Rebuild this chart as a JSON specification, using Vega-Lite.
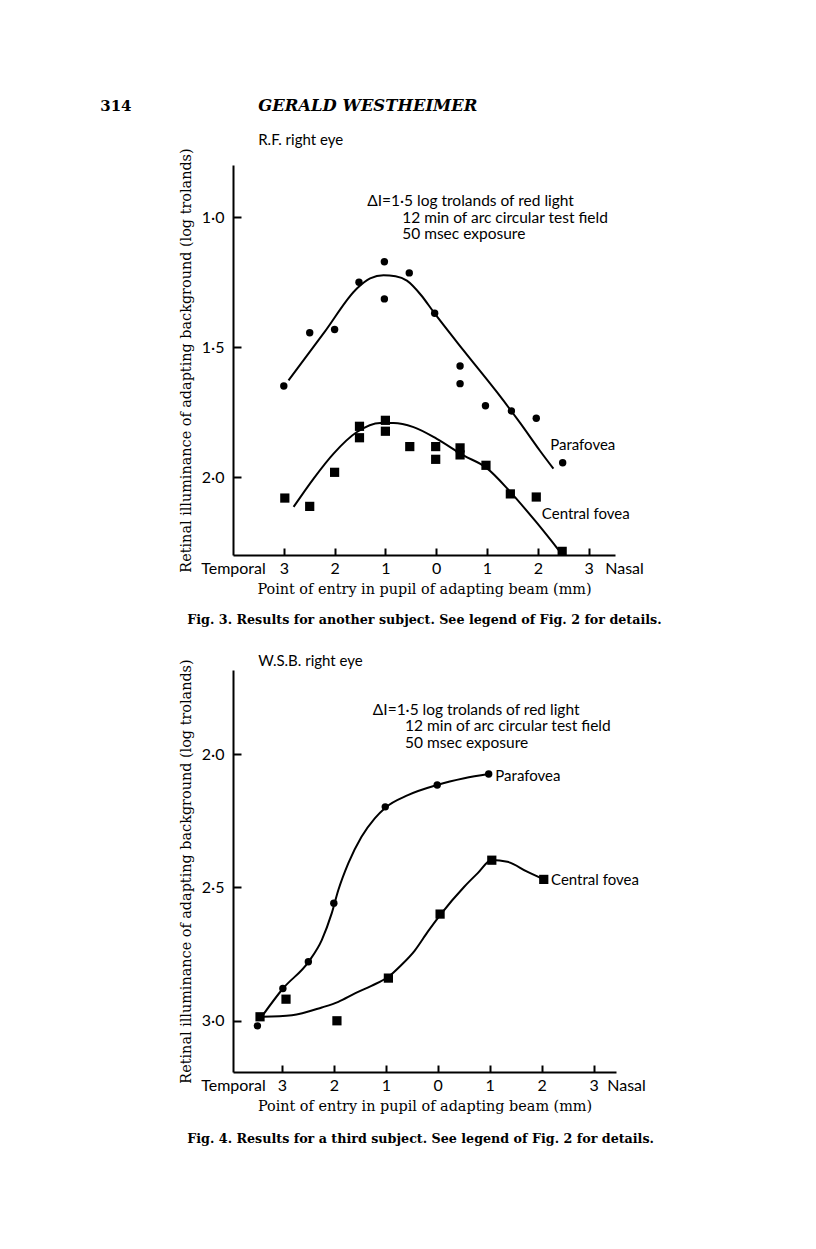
{
  "$schema": "https://vega.github.io/schema/vega-lite/v6.json",
  "background": "white",
  "padding": {"left": 100, "top": 97, "right": 10, "bottom": 10},
  "config": {
    "view": {"stroke": null},
    "axis": {
      "domainColor": "black", "domainWidth": 2, "tickColor": "black", "tickWidth": 2,
      "labelColor": "black", "titleColor": "black", "grid": false,
      "labelFont": "Lato", "labelFontSize": 16,
      "titleFont": "DejaVu Serif", "titleFontSize": 14.4, "titleFontWeight": "normal"
    }
  },
  "datasets": {
    "fig3_points": [
      {"x": -3.0, "y": 1.65, "series": "Parafovea"},
      {"x": -2.49, "y": 1.445, "series": "Parafovea"},
      {"x": -2.0, "y": 1.433, "series": "Parafovea"},
      {"x": -1.52, "y": 1.251, "series": "Parafovea"},
      {"x": -1.02, "y": 1.172, "series": "Parafovea"},
      {"x": -1.02, "y": 1.315, "series": "Parafovea"},
      {"x": -0.53, "y": 1.215, "series": "Parafovea"},
      {"x": -0.03, "y": 1.37, "series": "Parafovea"},
      {"x": 0.47, "y": 1.573, "series": "Parafovea"},
      {"x": 0.47, "y": 1.641, "series": "Parafovea"},
      {"x": 0.97, "y": 1.726, "series": "Parafovea"},
      {"x": 1.48, "y": 1.746, "series": "Parafovea"},
      {"x": 1.97, "y": 1.774, "series": "Parafovea"},
      {"x": 2.49, "y": 1.945, "series": "Parafovea"},
      {"x": -2.98, "y": 2.081, "series": "Central fovea"},
      {"x": -2.49, "y": 2.113, "series": "Central fovea"},
      {"x": -2.0, "y": 1.982, "series": "Central fovea"},
      {"x": -1.51, "y": 1.805, "series": "Central fovea"},
      {"x": -1.51, "y": 1.849, "series": "Central fovea"},
      {"x": -1.0, "y": 1.782, "series": "Central fovea"},
      {"x": -1.0, "y": 1.824, "series": "Central fovea"},
      {"x": -0.52, "y": 1.883, "series": "Central fovea"},
      {"x": -0.01, "y": 1.883, "series": "Central fovea"},
      {"x": -0.01, "y": 1.932, "series": "Central fovea"},
      {"x": 0.47, "y": 1.888, "series": "Central fovea"},
      {"x": 0.47, "y": 1.915, "series": "Central fovea"},
      {"x": 0.98, "y": 1.955, "series": "Central fovea"},
      {"x": 1.46, "y": 2.065, "series": "Central fovea"},
      {"x": 1.97, "y": 2.077, "series": "Central fovea"},
      {"x": 2.48, "y": 2.286, "series": "Central fovea"}
    ],
    "fig3_curves": [
      {"x": -2.907, "y": 1.628, "series": "Parafovea"},
      {"x": -2.2, "y": 1.443, "series": "Parafovea"},
      {"x": -1.561, "y": 1.275, "series": "Parafovea"},
      {"x": -1.3, "y": 1.236, "series": "Parafovea"},
      {"x": -1.037, "y": 1.224, "series": "Parafovea"},
      {"x": -0.8, "y": 1.228, "series": "Parafovea"},
      {"x": -0.577, "y": 1.245, "series": "Parafovea"},
      {"x": -0.3, "y": 1.3, "series": "Parafovea"},
      {"x": -0.053, "y": 1.365, "series": "Parafovea"},
      {"x": 0.538, "y": 1.513, "series": "Parafovea"},
      {"x": 1.193, "y": 1.673, "series": "Parafovea"},
      {"x": 1.652, "y": 1.792, "series": "Parafovea"},
      {"x": 2.046, "y": 1.9, "series": "Parafovea"},
      {"x": 2.308, "y": 1.968, "series": "Parafovea"},
      {"x": -2.807, "y": 2.115, "series": "Central fovea"},
      {"x": -2.413, "y": 2.006, "series": "Central fovea"},
      {"x": -2.02, "y": 1.91, "series": "Central fovea"},
      {"x": -1.56, "y": 1.827, "series": "Central fovea"},
      {"x": -1.1, "y": 1.792, "series": "Central fovea"},
      {"x": -0.84, "y": 1.792, "series": "Central fovea"},
      {"x": -0.446, "y": 1.808, "series": "Central fovea"},
      {"x": 0.013, "y": 1.853, "series": "Central fovea"},
      {"x": 0.538, "y": 1.917, "series": "Central fovea"},
      {"x": 0.984, "y": 1.964, "series": "Central fovea"},
      {"x": 1.462, "y": 2.058, "series": "Central fovea"},
      {"x": 1.967, "y": 2.173, "series": "Central fovea"},
      {"x": 2.439, "y": 2.288, "series": "Central fovea"}
    ],
    "fig4_points": [
      {"x": -3.47, "y": 3.019, "series": "Parafovea"},
      {"x": -2.98, "y": 2.879, "series": "Parafovea"},
      {"x": -2.49, "y": 2.779, "series": "Parafovea"},
      {"x": -2.0, "y": 2.559, "series": "Parafovea"},
      {"x": -1.01, "y": 2.198, "series": "Parafovea"},
      {"x": -0.01, "y": 2.116, "series": "Parafovea"},
      {"x": 0.98, "y": 2.075, "series": "Parafovea"},
      {"x": -3.42, "y": 2.985, "series": "Central fovea"},
      {"x": -2.92, "y": 2.919, "series": "Central fovea"},
      {"x": -1.94, "y": 3.0, "series": "Central fovea"},
      {"x": -0.95, "y": 2.84, "series": "Central fovea"},
      {"x": 0.045, "y": 2.6, "series": "Central fovea"},
      {"x": 1.04, "y": 2.398, "series": "Central fovea"},
      {"x": 2.04, "y": 2.47, "series": "Central fovea"}
    ],
    "fig4_curves": [
      {"x": -3.38, "y": 2.9825, "series": "Parafovea"},
      {"x": -2.978, "y": 2.879, "series": "Parafovea"},
      {"x": -2.487, "y": 2.779, "series": "Parafovea"},
      {"x": -2.232, "y": 2.6975, "series": "Parafovea"},
      {"x": -2.041, "y": 2.5975, "series": "Parafovea"},
      {"x": -1.913, "y": 2.51, "series": "Parafovea"},
      {"x": -1.722, "y": 2.41, "series": "Parafovea"},
      {"x": -1.467, "y": 2.31, "series": "Parafovea"},
      {"x": -1.212, "y": 2.241, "series": "Parafovea"},
      {"x": -1.008, "y": 2.201, "series": "Parafovea"},
      {"x": -0.574, "y": 2.154, "series": "Parafovea"},
      {"x": -0.013, "y": 2.116, "series": "Parafovea"},
      {"x": 0.51, "y": 2.091, "series": "Parafovea"},
      {"x": 0.982, "y": 2.075, "series": "Parafovea"},
      {"x": -3.38, "y": 2.985, "series": "Central fovea"},
      {"x": -2.806, "y": 2.979, "series": "Central fovea"},
      {"x": -2.232, "y": 2.95, "series": "Central fovea"},
      {"x": -1.913, "y": 2.929, "series": "Central fovea"},
      {"x": -1.594, "y": 2.8975, "series": "Central fovea"},
      {"x": -1.276, "y": 2.869, "series": "Central fovea"},
      {"x": -0.95, "y": 2.835, "series": "Central fovea"},
      {"x": -0.702, "y": 2.791, "series": "Central fovea"},
      {"x": -0.446, "y": 2.7375, "series": "Central fovea"},
      {"x": -0.191, "y": 2.666, "series": "Central fovea"},
      {"x": 0.045, "y": 2.604, "series": "Central fovea"},
      {"x": 0.51, "y": 2.4975, "series": "Central fovea"},
      {"x": 0.765, "y": 2.4475, "series": "Central fovea"},
      {"x": 1.04, "y": 2.3975, "series": "Central fovea"},
      {"x": 1.34, "y": 2.404, "series": "Central fovea"},
      {"x": 1.72, "y": 2.441, "series": "Central fovea"},
      {"x": 2.04, "y": 2.47, "series": "Central fovea"}
    ],
    "fig3_notes": [
      {"x": -1.358, "y": 0.9396, "text": "ΔI=1·5 log trolands of red light"},
      {"x": -0.669, "y": 1.003, "text": "12 min of arc circular test field"},
      {"x": -0.669, "y": 1.0665, "text": "50 msec exposure"}
    ],
    "fig3_labels": [
      {"x": 2.244, "y": 1.878, "text": "Parafovea"},
      {"x": 2.08, "y": 2.141, "text": "Central fovea"},
      {"x": -3.504, "y": 0.705, "text": "R.F. right eye"}
    ],
    "fig4_notes": [
      {"x": -1.25, "y": 1.8331, "text": "ΔI=1·5 log trolands of red light"},
      {"x": -0.629, "y": 1.895, "text": "12 min of arc circular test field"},
      {"x": -0.629, "y": 1.9569, "text": "50 msec exposure"}
    ],
    "fig4_labels": [
      {"x": 1.108, "y": 2.081, "text": "Parafovea"},
      {"x": 2.18, "y": 2.4725, "text": "Central fovea"},
      {"x": -3.456, "y": 1.651, "text": "W.S.B. right eye"}
    ],
    "fig3_caption": [
      {"x": -4.9, "y": 2.551, "text": "Fig. 3. Results for another subject. See legend of Fig. 2 for details."}
    ],
    "fig4_caption": [
      {"x": -4.82, "y": 3.444, "text": "Fig. 4. Results for a third subject. See legend of Fig. 2 for details."}
    ],
    "page_number": [
      {"x": -6.614, "y": 0.573, "text": "314"}
    ],
    "page_author": [
      {"x": -3.504, "y": 0.573, "text": "GERALD WESTHEIMER"}
    ]
  },
  "bounds": "flush",
  "spacing": 115,
  "vconcat": [
    {
      "width": 382,
      "height": 390,
      "encoding": {
        "x": {
          "field": "x", "type": "quantitative",
          "scale": {"domain": [-4, 3.52], "nice": false, "zero": false},
          "axis": {
            "values": [-4, -3, -2, -1, 0, 1, 2, 3, 3.52],
            "labelExpr": "datum.value < -3.5 ? 'Temporal' : datum.value > 3.2 ? 'Nasal' : format(abs(datum.value), 'd')",
            "tickOpacity": {"condition": {"test": "abs(datum.value) > 3.2", "value": 0}, "value": 1},
            "labelOffset": {"condition": {"test": "datum.value > 3.2", "value": 9}, "value": 0},
            "tickSize": -7, "labelPadding": 12,
            "labelFlush": false, "labelOverlap": false, "labelBound": false,
            "title": "Point of entry in pupil of adapting beam (mm)", "titlePadding": 6
          }
        },
        "y": {
          "field": "y", "type": "quantitative",
          "scale": {"domain": [0.8, 2.3], "reverse": true, "nice": false, "zero": false},
          "axis": {
            "values": [1, 1.5, 2],
            "labelExpr": "replace(format(datum.value, '.1f'), '.', '·')",
            "tickSize": -8, "labelPadding": 17,
            "title": "Retinal illuminance of adapting background (log trolands)", "titlePadding": 8
          }
        }
      },
      "layer": [
        {
          "data": {"name": "fig3_curves"},
          "mark": {"type": "line", "interpolate": "monotone", "color": "black", "strokeWidth": 2},
          "encoding": {"detail": {"field": "series"}}
        },
        {
          "data": {"name": "fig3_points"},
          "mark": {"type": "point", "filled": true, "color": "black", "opacity": 1},
          "encoding": {
            "shape": {"field": "series", "scale": {"domain": ["Parafovea", "Central fovea"], "range": ["circle", "square"]}, "legend": null},
            "size": {"field": "series", "scale": {"domain": ["Parafovea", "Central fovea"], "range": [55, 85]}, "legend": null}
          }
        },
        {
          "data": {"name": "fig3_notes"},
          "mark": {"type": "text", "font": "Lato", "fontSize": 15.5, "align": "left", "baseline": "middle", "color": "black"},
          "encoding": {"text": {"field": "text"}}
        },
        {
          "data": {"name": "fig3_labels"},
          "mark": {"type": "text", "font": "Lato", "fontSize": 15, "align": "left", "baseline": "middle", "color": "black"},
          "encoding": {"text": {"field": "text"}}
        },
        {
          "data": {"name": "fig3_caption"},
          "mark": {"type": "text", "font": "DejaVu Serif", "fontSize": 12.7, "fontWeight": "bold", "align": "left", "baseline": "middle", "color": "black"},
          "encoding": {"text": {"field": "text"}}
        },
        {
          "data": {"name": "page_number"},
          "mark": {"type": "text", "font": "DejaVu Serif", "fontSize": 15, "fontWeight": "bold", "align": "left", "baseline": "middle", "color": "black"},
          "encoding": {"text": {"field": "text"}}
        },
        {
          "data": {"name": "page_author"},
          "mark": {"type": "text", "font": "DejaVu Serif", "fontSize": 16.4, "fontWeight": "bold", "fontStyle": "italic", "align": "left", "baseline": "middle", "color": "black"},
          "encoding": {"text": {"field": "text"}}
        }
      ]
    },
    {
      "width": 383,
      "height": 402,
      "encoding": {
        "x": {
          "field": "x", "type": "quantitative",
          "scale": {"domain": [-3.94, 3.43], "nice": false, "zero": false},
          "axis": {
            "values": [-3.94, -3, -2, -1, 0, 1, 2, 3, 3.43],
            "labelExpr": "datum.value < -3.5 ? 'Temporal' : datum.value > 3.2 ? 'Nasal' : format(abs(datum.value), 'd')",
            "tickOpacity": {"condition": {"test": "abs(datum.value) > 3.2", "value": 0}, "value": 1},
            "labelOffset": {"condition": {"test": "datum.value > 3.2", "value": 10}, "value": 0},
            "tickSize": -7, "labelPadding": 12,
            "labelFlush": false, "labelOverlap": false, "labelBound": false,
            "title": "Point of entry in pupil of adapting beam (mm)", "titlePadding": 6
          }
        },
        "y": {
          "field": "y", "type": "quantitative",
          "scale": {"domain": [1.685, 3.192], "reverse": true, "nice": false, "zero": false},
          "axis": {
            "values": [2, 2.5, 3],
            "labelExpr": "replace(format(datum.value, '.1f'), '.', '·')",
            "tickSize": -8, "labelPadding": 17,
            "title": "Retinal illuminance of adapting background (log trolands)", "titlePadding": 8
          }
        }
      },
      "layer": [
        {
          "data": {"name": "fig4_curves"},
          "mark": {"type": "line", "interpolate": "monotone", "color": "black", "strokeWidth": 2},
          "encoding": {"detail": {"field": "series"}}
        },
        {
          "data": {"name": "fig4_points"},
          "mark": {"type": "point", "filled": true, "color": "black", "opacity": 1},
          "encoding": {
            "shape": {"field": "series", "scale": {"domain": ["Parafovea", "Central fovea"], "range": ["circle", "square"]}, "legend": null},
            "size": {"field": "series", "scale": {"domain": ["Parafovea", "Central fovea"], "range": [55, 85]}, "legend": null}
          }
        },
        {
          "data": {"name": "fig4_notes"},
          "mark": {"type": "text", "font": "Lato", "fontSize": 15.5, "align": "left", "baseline": "middle", "color": "black"},
          "encoding": {"text": {"field": "text"}}
        },
        {
          "data": {"name": "fig4_labels"},
          "mark": {"type": "text", "font": "Lato", "fontSize": 15, "align": "left", "baseline": "middle", "color": "black"},
          "encoding": {"text": {"field": "text"}}
        },
        {
          "data": {"name": "fig4_caption"},
          "mark": {"type": "text", "font": "DejaVu Serif", "fontSize": 12.7, "fontWeight": "bold", "align": "left", "baseline": "middle", "color": "black"},
          "encoding": {"text": {"field": "text"}}
        }
      ]
    }
  ]
}
